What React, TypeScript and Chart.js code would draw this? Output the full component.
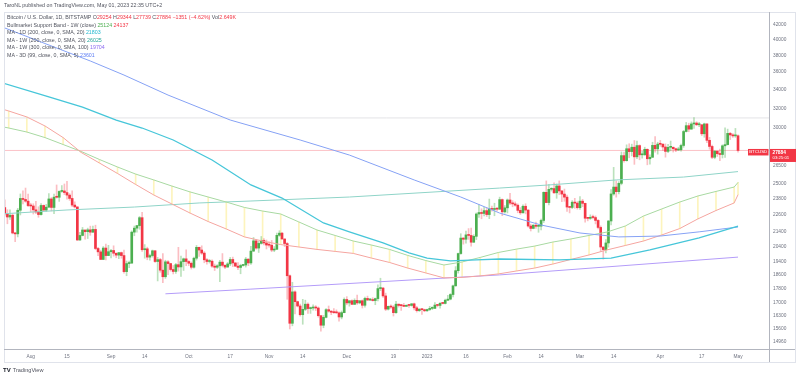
import React, { useEffect, useRef } from "react";
import { Chart, registerables } from "chart.js";

Chart.register(...registerables);

// ---------- data (prices in thousands of USD; day 0 = Aug 1, 2022) ----------
const FIRST_DAY = -10; // Jul 22, 2022
const FIRST_OPEN = 23.15;

const CLOSE = [
  22.68, 22.45, 22.58, 21.31, 21.25, 22.95, 23.85, 23.77, 23.64, 23.30,
  23.27, 22.98, 22.82, 22.63, 23.31, 22.96, 23.18, 23.81, 23.16, 23.95, 23.94, 24.40, 24.44, 24.31, 24.11, 23.85, 23.34, 23.20, 20.83, 21.14, 21.52, 21.40, 21.53, 21.37, 21.56, 20.26, 20.04, 19.55, 20.29, 19.80, 20.05,
  20.13, 19.95, 19.83, 19.99, 19.80, 18.79, 19.29, 19.32, 21.37, 21.65, 21.83, 22.40, 20.18, 20.24, 19.70, 19.80, 20.11, 19.42, 19.54, 18.88, 18.48, 19.40, 19.29, 18.92, 18.80, 19.22, 19.08, 19.41, 19.59, 19.42,
  19.31, 19.06, 19.63, 20.34, 20.16, 19.96, 19.53, 19.42, 19.44, 19.13, 19.06, 19.15, 19.38, 19.18, 19.07, 19.27, 19.55, 19.33, 19.13, 19.05, 19.17, 19.20, 19.57, 19.33, 20.09, 20.77, 20.29, 20.60, 20.81, 20.63, 20.49,
  20.48, 20.16, 20.21, 21.15, 21.30, 20.90, 20.59, 18.54, 15.88, 17.59, 17.04, 16.80, 16.33, 16.62, 16.90, 16.66, 16.69, 16.70, 16.69, 16.28, 15.78, 16.19, 16.60, 16.52, 16.46, 16.44, 16.43, 16.21, 16.44, 17.16,
  16.97, 17.09, 16.89, 17.11, 16.97, 17.09, 16.84, 17.22, 17.13, 17.13, 17.10, 17.21, 17.78, 17.81, 17.36, 16.63, 16.78, 16.74, 16.44, 16.90, 16.83, 16.82, 16.78, 16.84, 16.83, 16.92, 16.70, 16.55, 16.63, 16.60, 16.54,
  16.61, 16.67, 16.67, 16.85, 16.83, 16.95, 16.94, 17.12, 17.18, 17.44, 17.94, 18.85, 19.93, 20.96, 20.88, 21.18, 21.14, 20.68, 21.08, 22.67, 22.78, 22.71, 22.92, 22.63, 23.06, 23.01, 23.08, 23.03, 23.76, 22.83, 23.13,
  23.73, 23.49, 23.43, 23.33, 22.94, 22.76, 23.25, 22.96, 21.80, 21.63, 21.86, 21.78, 21.79, 22.20, 24.33, 23.53, 24.57, 24.63, 24.29, 24.84, 24.44, 24.19, 23.95, 23.19, 23.16, 23.56, 23.49, 23.14,
  23.64, 23.47, 22.36, 22.35, 22.43, 22.41, 22.20, 21.70, 20.36, 20.19, 20.63, 22.16, 24.20, 24.75, 24.38, 25.05, 27.42, 26.97, 28.04, 27.78, 28.18, 27.31, 28.33, 27.49, 27.49, 27.99, 27.14, 27.27, 28.35, 28.03, 28.47,
  28.45, 28.20, 27.80, 28.17, 28.18, 28.04, 27.93, 27.95, 28.34, 29.66, 30.23, 29.89, 30.40, 30.49, 30.32, 30.32, 29.44, 30.40, 28.82, 28.25, 27.27, 27.82, 27.59, 27.52, 28.31, 28.42, 29.48, 29.33, 29.24, 29.254,
  27.884,
];

const HIGH = [
  23.74, 22.99, 22.98, 22.66, 21.34, 23.09, 24.20, 24.44, 24.67, 24.20,
  23.48, 23.44, 23.63, 23.21, 23.45, 23.35, 23.39, 24.22, 23.92, 24.20, 24.92, 24.45, 24.87, 25.00, 25.21, 24.23, 24.44, 23.59, 23.20, 21.36, 21.70, 21.52, 21.65, 21.79, 21.80, 21.86, 20.34, 20.15, 20.39, 20.56, 20.47,
  20.21, 20.44, 19.97, 20.00, 20.03, 20.16, 19.45, 19.45, 21.46, 21.80, 21.85, 22.49, 22.80, 20.52, 20.35, 19.89, 20.16, 20.12, 19.68, 19.62, 19.93, 19.50, 19.48, 19.31, 19.17, 19.30, 20.34, 19.76, 19.64, 20.17,
  19.48, 19.39, 19.71, 20.46, 20.36, 20.44, 20.06, 19.61, 19.55, 19.52, 19.26, 19.22, 19.50, 19.93, 19.22, 19.36, 19.68, 19.70, 19.35, 19.35, 19.25, 19.25, 19.68, 19.60, 20.40, 21.00, 20.86, 20.75, 21.07, 20.92, 20.83,
  20.70, 20.80, 20.39, 21.30, 21.47, 21.36, 20.90, 20.66, 18.59, 18.15, 17.65, 17.07, 16.90, 17.17, 17.12, 16.98, 16.74, 16.87, 16.82, 16.75, 16.29, 16.29, 16.66, 16.80, 16.55, 16.66, 16.59, 16.48, 16.53, 17.25,
  17.32, 17.10, 17.14, 17.20, 17.41, 17.10, 17.14, 17.30, 17.35, 17.22, 17.26, 17.24, 18.00, 18.39, 17.85, 17.52, 16.80, 16.86, 16.82, 17.06, 16.91, 16.87, 16.94, 16.86, 16.86, 16.93, 16.96, 16.78, 16.65, 16.64, 16.63,
  16.63, 16.78, 16.76, 16.99, 16.88, 16.99, 16.97, 17.18, 17.39, 17.49, 17.99, 19.10, 19.96, 21.26, 20.99, 21.44, 21.62, 21.65, 21.19, 22.75, 23.37, 23.06, 23.17, 23.13, 23.80, 23.26, 23.48, 23.15, 23.95, 23.81, 23.30,
  23.81, 24.25, 23.68, 23.58, 23.43, 23.15, 23.35, 23.44, 22.99, 21.93, 21.90, 22.08, 21.89, 22.30, 24.37, 25.25, 24.97, 24.70, 25.09, 25.00, 25.25, 24.47, 24.59, 24.12, 23.21, 23.68, 23.86, 23.61,
  23.99, 23.78, 23.49, 22.41, 22.61, 22.60, 22.53, 22.27, 21.81, 20.37, 20.85, 22.19, 24.55, 26.39, 25.25, 25.20, 27.75, 27.73, 28.40, 28.50, 28.46, 28.80, 28.75, 28.40, 27.81, 28.18, 28.03, 27.50, 28.64, 29.17, 28.64,
  28.81, 28.53, 28.49, 28.44, 28.75, 28.19, 28.10, 28.18, 28.46, 29.77, 30.55, 30.47, 30.60, 31.03, 30.62, 30.55, 30.32, 30.48, 30.43, 29.10, 28.37, 27.87, 27.82, 28.00, 28.40, 30.02, 29.89, 29.58, 29.46, 29.96,
  29.344,
];

const LOW = [
  22.51, 21.96, 22.28, 21.25, 20.72, 21.04, 22.60, 23.43, 23.55, 23.22,
  22.85, 22.67, 22.69, 22.43, 22.59, 22.93, 22.86, 23.16, 22.90, 22.70, 23.87, 23.62, 24.33, 24.15, 23.80, 23.70, 23.21, 23.12, 20.80, 20.80, 21.11, 20.88, 20.93, 21.15, 21.34, 20.18, 19.80, 19.55, 19.55, 19.52, 19.80,
  19.65, 19.76, 19.66, 19.60, 19.63, 18.70, 18.54, 19.03, 19.30, 21.12, 21.36, 21.57, 20.07, 19.63, 19.53, 19.50, 19.70, 19.36, 18.23, 18.75, 18.12, 18.38, 18.60, 18.82, 18.65, 18.68, 18.82, 18.50, 18.86, 19.16,
  19.16, 18.95, 19.00, 19.51, 19.74, 19.87, 19.34, 19.26, 19.32, 19.05, 18.86, 18.98, 18.19, 19.08, 18.97, 19.07, 19.16, 19.10, 19.10, 18.91, 18.66, 19.13, 19.07, 19.16, 19.24, 20.06, 20.22, 20.00, 20.55, 20.50, 20.23,
  20.35, 20.05, 20.05, 20.18, 21.08, 20.88, 20.39, 17.17, 15.59, 15.75, 16.37, 16.75, 16.25, 15.83, 16.55, 16.40, 16.40, 16.57, 16.55, 16.20, 15.48, 15.65, 16.16, 16.46, 16.33, 16.40, 16.40, 15.99, 16.11, 16.43,
  16.87, 16.79, 16.88, 16.88, 16.89, 16.92, 16.69, 16.74, 17.11, 17.09, 17.07, 16.87, 17.08, 17.66, 17.28, 16.55, 16.58, 16.67, 16.26, 16.40, 16.74, 16.56, 16.77, 16.78, 16.72, 16.79, 16.59, 16.47, 16.50, 16.34, 16.49,
  16.50, 16.55, 16.60, 16.66, 16.75, 16.68, 16.91, 16.91, 17.10, 17.14, 17.31, 17.92, 18.70, 19.88, 20.55, 20.61, 20.87, 20.41, 20.66, 20.86, 22.42, 22.32, 22.52, 22.48, 22.33, 22.88, 22.54, 22.90, 23.00, 22.55, 22.73,
  22.75, 23.37, 23.21, 23.25, 22.76, 22.64, 22.74, 22.68, 21.72, 21.45, 21.60, 21.63, 21.36, 21.53, 22.05, 23.52, 23.35, 24.43, 24.25, 23.86, 24.15, 23.59, 23.63, 22.86, 22.75, 23.07, 23.10, 23.03,
  23.02, 23.22, 22.08, 22.17, 22.27, 22.31, 21.95, 21.60, 20.06, 19.57, 19.97, 20.35, 21.87, 24.10, 23.95, 24.21, 24.93, 26.85, 26.93, 27.23, 27.39, 26.65, 27.15, 27.05, 27.20, 27.45, 26.61, 26.66, 27.26, 27.72, 27.55,
  28.26, 27.88, 27.28, 27.68, 27.85, 27.74, 27.78, 27.87, 27.81, 28.17, 29.61, 29.64, 29.88, 29.95, 30.23, 30.13, 29.27, 29.11, 28.61, 28.00, 27.14, 27.14, 27.34, 26.97, 27.21, 27.26, 28.38, 28.89, 29.09, 29.10,
  27.739,
];

// Bull market support band (weekly)
const BAND_DAYS = [-15.5, -8.5, -1.5, 5.5, 12.5, 19.5, 26.5, 33.5, 40.5, 47.5, 54.5, 61.5, 68.5, 75.5, 82.5, 89.5, 96.5, 103.5, 110.5, 117.5, 124.5, 131.5, 138.5, 145.5, 152.5, 159.5, 166.5, 173.5, 180.5, 187.5, 194.5, 201.5, 208.5, 215.5, 222.5, 229.5, 236.5, 243.5, 250.5, 257.5, 264.5, 271.5, 273];
const BAND_SMA = [30.35, 30.0, 29.61, 29.08, 28.43, 27.79, 27.08, 26.42, 25.82, 25.33, 24.83, 24.36, 23.96, 23.57, 23.16, 22.89, 22.67, 22.09, 21.52, 21.14, 20.76, 20.49, 20.2, 19.81, 19.48, 19.2, 19.39, 19.68, 20.0, 20.22, 20.42, 20.69, 20.9, 21.14, 21.38, 21.8, 22.52, 23.04, 23.57, 24.04, 24.4, 24.75, 25.124];
const BAND_EMA = [32.28, 31.71, 31.1, 30.2, 29.08, 27.7, 26.77, 25.87, 24.96, 24.12, 23.42, 22.74, 22.12, 21.59, 21.04, 20.76, 20.52, 20.36, 20.2, 20.07, 19.94, 19.64, 19.36, 19.01, 18.71, 18.41, 18.44, 18.53, 18.65, 18.83, 19.01, 19.26, 19.55, 19.84, 20.17, 20.46, 20.76, 21.17, 21.62, 22.31, 22.93, 23.5, 24.137];

// Moving averages
const MA3D99_DAYS = [-12, 4, 23, 36, 53, 77, 104, 123, 148, 166, 181, 197, 212, 227, 243, 258, 273];
const MA3D99 = [41.83, 39.7, 37.32, 35.65, 33.4, 30.79, 28.85, 27.47, 25.33, 23.96, 22.74, 21.87, 21.31, 21.04, 21.1, 21.39, 21.73];
const MA1D200_DAYS = [-12, 7, 20, 33, 43, 55, 70, 85, 97, 113, 123, 136, 146, 153, 162, 172, 181, 204, 224, 239, 258, 273];
const MA1D200 = [34.85, 33.19, 32.12, 30.79, 30.0, 28.85, 27.03, 24.92, 23.88, 22.02, 21.39, 20.63, 19.97, 19.64, 19.46, 19.52, 19.58, 19.52, 19.64, 20.17, 20.97, 21.8];
const MA1W200_DAYS = [-12, 14, 40, 65, 85, 123, 181, 200, 226, 252, 273];
const MA1W200 = [22.67, 22.97, 23.19, 23.5, 23.65, 23.96, 24.67, 24.92, 25.33, 25.57, 26.03];
const MA1W300_DAYS = [52, 85, 181, 273];
const MA1W300 = [17.48, 17.75, 18.59, 19.7];

const LEVEL_HIGH = 31.0;

const X_TICK_DAYS = [0, 14, 31, 44, 61, 77, 92, 105, 122, 140, 153, 168, 184, 197, 212, 225, 243, 259, 273];
const X_TICK_LABELS = ["Aug", "15", "Sep", "14", "Oct", "17", "Nov", "14", "Dec", "19", "2023", "16", "Feb", "14", "Mar", "14", "Apr", "17", "May"];
const Y_TICKS = [42000, 40000, 38000, 36000, 34000, 32000, 30000, 26500, 25000, 23800, 22600, 21400, 20400, 19400, 18600, 17800, 17000, 16300, 15600, 14960];

const X_MIN = -10.31;
const X_MAX = 284.96;
const Y_MIN = 14604;
const Y_MAX = 43776;

const COUNTDOWN = "03:25:01";

// ---------- styling ----------
const FONT = '"Liberation Sans", Arial, sans-serif';
const UP = "#4caf50";
const DOWN = "#f23645";
const UP_WICK = "rgba(76,175,80,0.38)";
const DOWN_WICK = "rgba(242,54,69,0.32)";
const AXIS_TEXT = "#6f7380";

const K = 1000;

function buildCandles() {
  return CLOSE.map((c, i) => {
    const o = i === 0 ? FIRST_OPEN : CLOSE[i - 1];
    return { d: FIRST_DAY + i, o: o * K, h: HIGH[i] * K, l: LOW[i] * K, c: c * K };
  });
}

function series(days: number[], vals: number[]) {
  return days.map((d, i) => ({ x: d, y: vals[i] * K }));
}

const lineDs = (label: string, data: any[], color: string, width: number, order: number) => ({
  type: "line",
  label,
  data,
  borderColor: color,
  backgroundColor: color,
  borderWidth: width,
  pointRadius: 0,
  tension: 0,
  order,
});

const overlayPlugin = {
  id: "tvOverlay",
  afterDraw(chart: any) {
    const { ctx, chartArea: a, scales } = chart;
    const last = CLOSE[CLOSE.length - 1] * K;
    const py = scales.y.getPixelForValue(last);
    ctx.save();
    ctx.lineWidth = 1;
    ctx.strokeStyle = "#e0e3eb";
    ctx.strokeRect(4.5, 12.5, 791, 350);
    ctx.strokeStyle = "#b2b5be";
    ctx.beginPath();
    ctx.moveTo(Math.round(a.right) + 0.5, a.top);
    ctx.lineTo(Math.round(a.right) + 0.5, 362);
    ctx.moveTo(a.left, Math.round(a.bottom) + 0.5);
    ctx.lineTo(795, Math.round(a.bottom) + 0.5);
    ctx.stroke();
    // price tags
    ctx.fillStyle = DOWN;
    ctx.fillRect(a.right + 1, py - 1.5, 26, 13);
    ctx.fillRect(a.right - 21, py - 1.5, 20.5, 6.5);
    ctx.fillStyle = "#ffffff";
    ctx.textBaseline = "middle";
    ctx.textAlign = "left";
    ctx.font = `bold 4.8px ${FONT}`;
    ctx.fillText(String(Math.round(last)), a.right + 3.5, py + 1.8);
    ctx.font = `4.3px ${FONT}`;
    ctx.fillText(COUNTDOWN, a.right + 3.5, py + 7.3);
    ctx.textAlign = "center";
    ctx.font = `4.4px ${FONT}`;
    ctx.fillText("BTCUSD", a.right - 10.8, py + 1.8);
    ctx.restore();
  },
};

export default function App() {
  const ref = useRef<HTMLCanvasElement>(null);

  useEffect(() => {
    const candles = buildCandles();
    const wicks = candles.map((k) => ({ x: k.d, y: [k.l, k.h] }));
    const bodies = candles.map((k) => ({ x: k.d, y: [k.o, k.c] }));
    const upFlags = candles.map((k) => k.c >= k.o);
    const band = BAND_DAYS.map((d, i) => {
      const a = BAND_SMA[i] * K;
      const b = BAND_EMA[i] * K;
      return { x: d, y: [Math.min(a, b), Math.max(a, b)] };
    });
    const last = CLOSE[CLOSE.length - 1] * K;

    const chart = new Chart(ref.current as HTMLCanvasElement, {
      type: "bar",
      data: {
        datasets: [
          {
            type: "bar",
            label: "band fill",
            data: band,
            backgroundColor: "#fdf4bd",
            barThickness: 1,
            grouped: false,
            order: 30,
          } as any,
          {
            type: "bar",
            label: "wicks",
            data: wicks,
            backgroundColor: upFlags.map((u) => (u ? UP_WICK : DOWN_WICK)),
            barThickness: 1,
            grouped: false,
            order: 20,
          } as any,
          {
            type: "bar",
            label: "bodies",
            data: bodies,
            backgroundColor: upFlags.map((u) => (u ? UP : DOWN)),
            barThickness: 2,
            minBarLength: 1,
            grouped: false,
            order: 19,
          } as any,
          lineDs("high", [{ x: X_MIN, y: LEVEL_HIGH * K }, { x: X_MAX, y: LEVEL_HIGH * K }], "#e3e3e6", 1, 25) as any,
          lineDs("price", [{ x: X_MIN, y: last }, { x: X_MAX, y: last }], "rgba(242,54,69,0.3)", 1, 24) as any,
          lineDs("MA 1W 200", series(MA1W200_DAYS, MA1W200), "#8fd4c8", 1, 8) as any,
          lineDs("MA 1W 300", series(MA1W300_DAYS, MA1W300), "#b49cf9", 1, 7) as any,
          lineDs("Band SMA", series(BAND_DAYS, BAND_SMA), "#a8d9a2", 1, 6) as any,
          lineDs("Band EMA", series(BAND_DAYS, BAND_EMA), "#f5a5a0", 1, 5) as any,
          lineDs("MA 3D 99", series(MA3D99_DAYS, MA3D99), "#86a2f5", 1, 4) as any,
          lineDs("MA 1D 200", series(MA1D200_DAYS, MA1D200), "#46c6d9", 1.3, 3) as any,
        ],
      },
      options: {
        animation: false,
        responsive: false,
        devicePixelRatio: 1,
        layout: { padding: { top: 12, left: 4, right: 0, bottom: 0 } },
        plugins: { legend: { display: false }, tooltip: { enabled: false }, title: { display: false } },
        scales: {
          x: {
            type: "linear",
            min: X_MIN,
            max: X_MAX,
            bounds: "data",
            offset: false,
            grid: { display: false, drawTicks: false },
            border: { display: false },
            afterBuildTicks: (s: any) => {
              s.ticks = X_TICK_DAYS.map((v) => ({ value: v }));
            },
            afterFit: (s: any) => {
              s.height = 29;
            },
            ticks: {
              autoSkip: false,
              maxRotation: 0,
              padding: 4.5,
              color: AXIS_TEXT,
              font: { family: FONT, size: 4.8 },
              callback: (v: any) => {
                const i = X_TICK_DAYS.indexOf(Number(v));
                return i >= 0 ? X_TICK_LABELS[i] : "";
              },
            },
          },
          y: {
            type: "logarithmic",
            position: "right",
            min: Y_MIN,
            max: Y_MAX,
            bounds: "data",
            grid: { display: false, drawTicks: false },
            border: { display: false },
            afterBuildTicks: (s: any) => {
              s.ticks = Y_TICKS.map((v) => ({ value: v }));
            },
            afterFit: (s: any) => {
              s.width = 31;
            },
            ticks: {
              autoSkip: false,
              padding: 4,
              color: AXIS_TEXT,
              font: { family: FONT, size: 4.8 },
              callback: (v: any) => String(v),
            },
          },
        },
      } as any,
      plugins: [overlayPlugin],
    } as any);
    return () => chart.destroy();
  }, []);

  const base: React.CSSProperties = {
    position: "absolute",
    whiteSpace: "nowrap",
    fontFamily: FONT,
    fontSize: 5.3,
    lineHeight: "7px",
    color: "#50535e",
  };
  const row = (top: number): React.CSSProperties => ({ ...base, left: 7, top });
  const red = { color: DOWN };

  return (
    <div style={{ position: "absolute", left: 0, top: 0, width: 800, height: 378, background: "#ffffff", overflow: "hidden" }}>
      <canvas ref={ref} width={800} height={378} style={{ position: "absolute", left: 0, top: 0, width: 800, height: 378 }} />
      <div style={{ ...base, left: 4, top: 2 }}>TaroNL published on TradingView.com, May 01, 2023 22:35 UTC+2</div>
      <div style={row(13.8)}>
        Bitcoin / U.S. Dollar, 1D, BITSTAMP{"  "}O<span style={red}>29254</span> H<span style={red}>29344</span> L
        <span style={red}>27739</span> C<span style={red}>27884</span> <span style={red}>−1351 (−4.62%)</span> Vol
        <span style={red}>2.649K</span>
      </div>
      <div style={row(21.5)}>
        Bullmarket Support Band - 1W (close) <span style={{ color: UP }}>25124</span> <span style={red}>24137</span>
      </div>
      <div style={row(29.2)}>
        MA - 1D (200, close, 0, SMA, 20) <span style={{ color: "#22b8cf" }}>21803</span>
      </div>
      <div style={row(36.8)}>
        MA - 1W (200, close, 0, SMA, 20) <span style={{ color: "#26a69a" }}>26025</span>
      </div>
      <div style={row(44.2)}>
        MA - 1W (300, close, 0, SMA, 100) <span style={{ color: "#8c6cf0" }}>19704</span>
      </div>
      <div style={row(51.8)}>
        MA - 3D (99, close, 0, SMA, 5) <span style={{ color: "#5b7cf5" }}>23601</span>
      </div>
      <div style={{ ...base, left: 3, top: 366.5, fontSize: 5.6 }}>
        <span style={{ fontWeight: 700, color: "#131722", fontSize: 6, marginRight: 2 }}>TV</span>
        TradingView
      </div>
    </div>
  );
}
